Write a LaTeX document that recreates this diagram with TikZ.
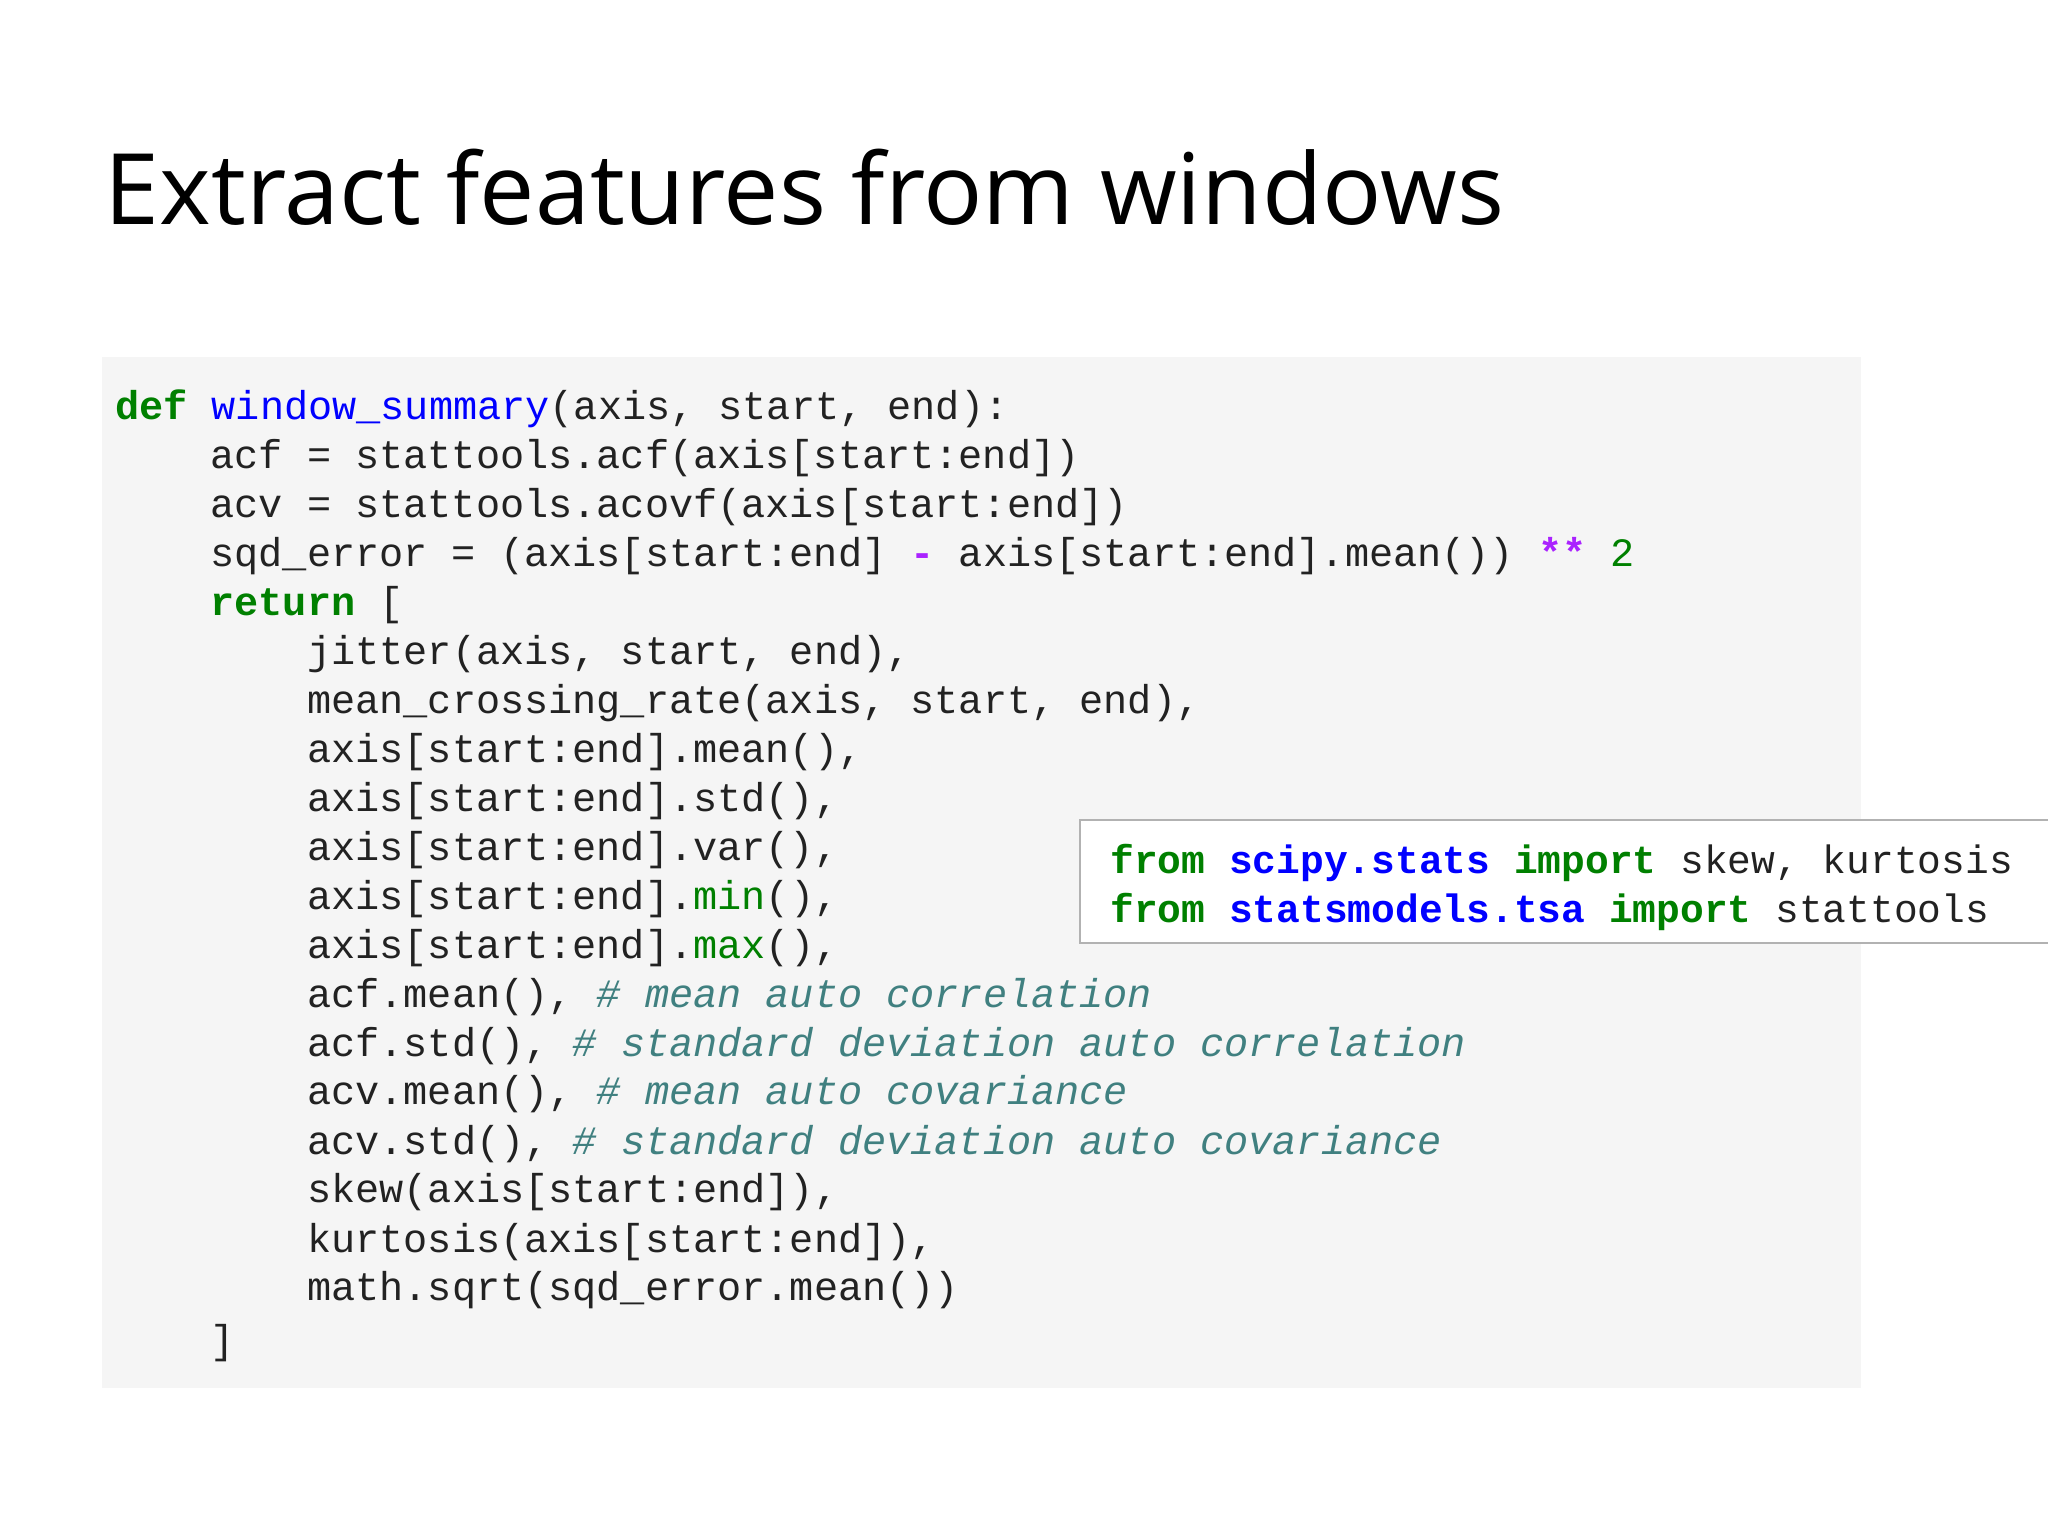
\documentclass[tikz,border=0pt]{standalone}
\usepackage{fontspec}
\setmainfont{Open Sans}
\setmonofont{Liberation Mono}
\definecolor{kw}{HTML}{008000}
\definecolor{fn}{HTML}{0000FF}
\definecolor{op}{HTML}{AA22FF}
\definecolor{cm}{HTML}{408080}
\definecolor{tx}{HTML}{222222}
\newcommand{\K}[1]{\textcolor{kw}{\bfseries #1}}
\newcommand{\F}[1]{\textcolor{fn}{#1}}
\newcommand{\FB}[1]{\textcolor{fn}{\bfseries #1}}
\newcommand{\OP}[1]{\textcolor{op}{\bfseries #1}}
\newcommand{\N}[1]{\textcolor{kw}{#1}}
\newcommand{\CM}[1]{\textcolor{cm}{\itshape #1}}
\tikzset{code/.style={anchor=base west,inner sep=0pt,font=\ttfamily\fontsize{30.8}{30.8}\selectfont,text=tx},
 icode/.style={code,font=\ttfamily\fontsize{30.3}{30.3}\selectfont}}
\begin{document}
\begin{tikzpicture}[x=1pt,y=-1pt]
\useasboundingbox (0,0) rectangle (1568,1175);
\fill[white] (0,0) rectangle (1568,1175);
\node[anchor=base west,inner sep=0pt,font=\fontsize{75.5}{75.5}\selectfont,text=black] (title) at (80,172) {Extract features from windows};
\fill[black!4] (78,273) rectangle (1425,1063);
\node[code] (l1) at (88,321) {\K{def} \F{window\_summary}(axis, start, end):};
\node[code] (l2) at (161,359) {acf = stattools.acf(axis[start:end])};
\node[code] (l3) at (161,396) {acv = stattools.acovf(axis[start:end])};
\node[code] (l4) at (161,434) {sqd\_error = (axis[start:end] \OP{-} axis[start:end].mean()) \OP{**} \N{2}};
\node[code] (l5) at (161,471) {\K{return} [};
\node[code] (l6) at (235,509) {jitter(axis, start, end),};
\node[code] (l7) at (235,546) {mean\_crossing\_rate(axis, start, end),};
\node[code] (l8) at (235,584) {axis[start:end].mean(),};
\node[code] (l9) at (235,621) {axis[start:end].std(),};
\node[code] (l10) at (235,659) {axis[start:end].var(),};
\node[code] (l11) at (235,696) {axis[start:end].\N{min}(),};
\node[code] (l12) at (235,734) {axis[start:end].\N{max}(),};
\node[code] (l13) at (235,771) {acf.mean(), \CM{\# mean auto correlation}};
\node[code] (l14) at (235,809) {acf.std(), \CM{\# standard deviation auto correlation}};
\node[code] (l15) at (235,846) {acv.mean(), \CM{\# mean auto covariance}};
\node[code] (l16) at (235,884) {acv.std(), \CM{\# standard deviation auto covariance}};
\node[code] (l17) at (235,921) {skew(axis[start:end]),};
\node[code] (l18) at (235,959) {kurtosis(axis[start:end]),};
\node[code] (l19) at (235,996) {math.sqrt(sqd\_error.mean())};
\node[code] (l20) at (161,1036) {]};
\filldraw[fill=white,draw=black!30,line width=1.2pt] (827,628) rectangle (1575,722);
\node[icode] (i1) at (850,669) {\K{from} \FB{scipy.stats} \K{import} skew, kurtosis};
\node[icode] (i2) at (850,706) {\K{from} \FB{statsmodels.tsa} \K{import} stattools};
\end{tikzpicture}
\end{document}
